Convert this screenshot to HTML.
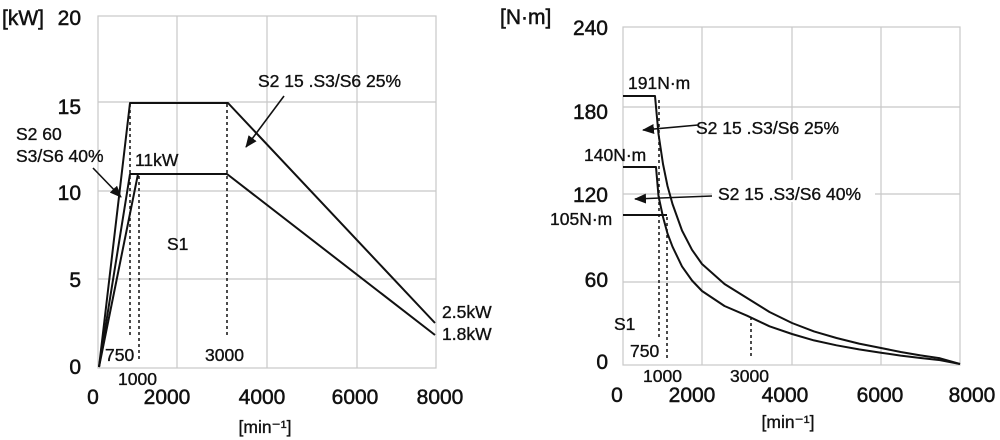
<!DOCTYPE html>
<html><head><meta charset="utf-8"><style>
html,body{margin:0;padding:0;background:#fff;}
svg{display:block;font-family:"Liberation Sans",sans-serif;}
.t{font-size:21px;fill:#111;stroke:#111;stroke-width:0.5;}
.a{font-size:17.5px;fill:#111;stroke:#111;stroke-width:0.35;}
</style></head><body>
<svg width="1000" height="440" viewBox="0 0 1000 440">
<defs><marker id="ah" markerWidth="12" markerHeight="10" refX="11" refY="5" orient="auto" markerUnits="userSpaceOnUse"><path d="M0,0 L12,5 L0,10 z" fill="#111"/></marker></defs>
<!-- LEFT -->
<g stroke="#c8c8c8" stroke-width="1.2" fill="none">
<rect x="98" y="16" width="338" height="352"/>
<line x1="177" y1="16" x2="177" y2="368"/><line x1="267" y1="16" x2="267" y2="368"/><line x1="357" y1="16" x2="357" y2="368"/>
<line x1="98" y1="102" x2="436" y2="102"/><line x1="98" y1="191" x2="436" y2="191"/><line x1="98" y1="279" x2="436" y2="279"/>
</g>
<g stroke="#111" stroke-width="2" fill="none" stroke-linejoin="round">
<polyline points="99,367 130,103 228,103 435,323"/>
<polyline points="99,367 130,174 227,174 435,335"/>
<polyline points="99,367 138,174"/>
</g>
<g stroke="#111" stroke-width="1.5" stroke-dasharray="3,3" fill="none">
<line x1="130" y1="104" x2="130" y2="338"/><line x1="139" y1="176" x2="139" y2="362"/><line x1="227" y1="104" x2="227" y2="338"/>
</g>
<g stroke="#111" stroke-width="1.6"><line x1="284" y1="96" x2="246" y2="147" marker-end="url(#ah)"/><line x1="93" y1="168" x2="121" y2="197" marker-end="url(#ah)"/></g>
<text class="t" x="2" y="25">[kW]</text>
<g class="t" text-anchor="end"><text x="81" y="25">20</text><text x="81" y="114">15</text><text x="81" y="200">10</text><text x="81" y="287">5</text><text x="81" y="374">0</text></g>
<g class="t" text-anchor="middle"><text x="93" y="404">0</text><text x="167" y="404">2000</text><text x="262" y="404">4000</text><text x="355" y="404">6000</text><text x="440" y="404">8000</text></g>
<text class="a" x="265" y="433" text-anchor="middle">[min⁻¹]</text>
<g class="a"><text x="258" y="87">S2 15 .S3/S6 25%</text><text x="16" y="140">S2 60</text><text x="16" y="162">S3/S6 40%</text><text x="135" y="166">11kW</text><text x="167" y="250">S1</text><text x="105" y="361">750</text><text x="118" y="385">1000</text><text x="205" y="361">3000</text><text x="442" y="318">2.5kW</text><text x="442" y="340">1.8kW</text></g>
<!-- RIGHT -->
<g stroke="#c8c8c8" stroke-width="1.2" fill="none">
<rect x="623" y="27" width="337" height="338"/>
<line x1="702" y1="27" x2="702" y2="365"/><line x1="792" y1="27" x2="792" y2="365"/><line x1="881" y1="27" x2="881" y2="365"/>
<line x1="623" y1="107" x2="960" y2="107"/><line x1="623" y1="194" x2="960" y2="194"/><line x1="623" y1="282" x2="960" y2="282"/>
</g>
<rect x="712" y="180" width="163" height="22" fill="#fff"/>
<g stroke="#111" stroke-width="2" fill="none" stroke-linejoin="round">
<polyline points="623,96 655,96 658.5,134 663,164 667.5,186 672.5,204 682,230.5 692,249.8 702,264 724.5,284 747,298 769.5,312 792,323 814,331.4 836.5,338 859,343.6 881,348 900.7,352 920.5,355.4 940,358.3 960,364"/>
<polyline points="623,167 656,167 658.5,196 663,217 667.5,233.5 672.5,246.7 682,266.4 692,280.5 702,291 724.5,306 747,315.7 769.5,326.3 792,334 814,340.4 836.5,345.3 859,349.4 881,352.7 900.7,355.6 920.5,358 940,360.1 960,364"/>
<polyline points="623,215 667,215"/>
</g>
<g stroke="#111" stroke-width="1.5" stroke-dasharray="3,3" fill="none">
<line x1="659" y1="100" x2="659" y2="340"/><line x1="667" y1="217" x2="667" y2="358"/><line x1="751" y1="317" x2="751" y2="358"/>
</g>
<g stroke="#111" stroke-width="1.6"><line x1="698" y1="125" x2="643" y2="130" marker-end="url(#ah)"/><line x1="712" y1="196" x2="635" y2="199" marker-end="url(#ah)"/></g>
<text class="t" x="500" y="24">[N·m]</text>
<g class="t" text-anchor="end"><text x="608" y="35">240</text><text x="608" y="119">180</text><text x="608" y="202">120</text><text x="608" y="287">60</text><text x="608" y="369">0</text></g>
<g class="t" text-anchor="middle"><text x="617" y="402">0</text><text x="692" y="402">2000</text><text x="785" y="402">4000</text><text x="880" y="402">6000</text><text x="972" y="402">8000</text></g>
<text class="a" x="788" y="428" text-anchor="middle">[min⁻¹]</text>
<g class="a"><text x="628" y="89">191N·m</text><text x="584" y="161">140N·m</text><text x="550" y="225">105N·m</text><text x="696" y="134">S2 15 .S3/S6 25%</text><text x="718" y="200">S2 15 .S3/S6 40%</text><text x="614" y="330">S1</text><text x="630" y="357">750</text><text x="643" y="382">1000</text><text x="730" y="382">3000</text></g>
</svg>
</body></html>
